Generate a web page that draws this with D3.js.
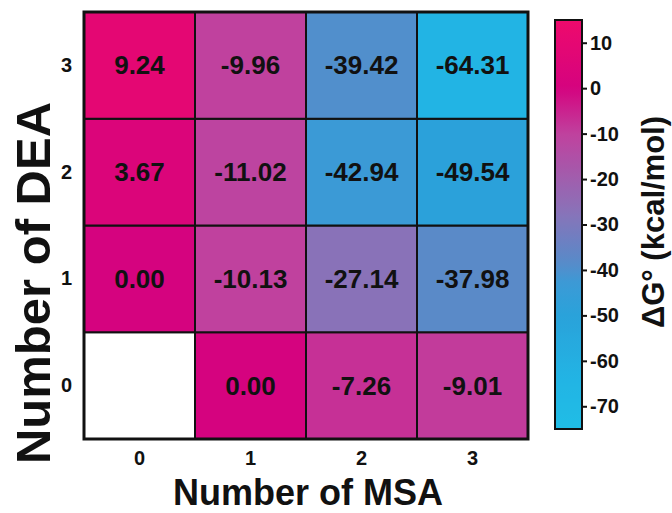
<!DOCTYPE html>
<html><head><meta charset="utf-8">
<script src="https://cdn.jsdelivr.net/npm/d3@7"></script>
<style>body{margin:0;background:#fff}svg{display:block}text{font-family:"Liberation Sans",Arial,sans-serif;font-weight:bold;fill:#111}</style>
</head><body><svg id="c" width="672" height="513"></svg>
<script>
const msa = [0, 1, 2, 3];
const dea = [0, 1, 2, 3];
// values[deaIndex][msaIndex]; null = empty cell
const values = [
  [null, 0.00, -7.26, -9.01],
  [0.00, -10.13, -27.14, -37.98],
  [3.67, -11.02, -42.94, -49.54],
  [9.24, -9.96, -39.42, -64.31]
];
const cbTicks = [10, 0, -10, -20, -30, -40, -50, -60, -70];
const colorStops = [15, 0, -10, -27, -38, -43, -50, -64, -75];
const colorRange = ["#ee0a6c", "#d5037f", "#c0419e", "#8a72b8", "#5a8ac8", "#3b9ad6", "#2aa2da", "#22b4e4", "#20bde6"];

const FF = '"Liberation Sans",Arial,sans-serif';
const svg = d3.select("#c");
const L = 84, R = 528, T = 12, B = 439;
const x = d3.scaleBand().domain(msa).range([L, R]);
const y = d3.scaleBand().domain(dea).range([B, T]);
const color = d3.scaleLinear().domain(colorStops).range(colorRange);

const cells = [];
dea.forEach((d, i) => msa.forEach((m, j) => cells.push({d, m, v: values[i][j]})));

const g = svg.append("g");
g.selectAll("rect").data(cells).join("rect")
  .attr("x", c => x(c.m)).attr("y", c => y(c.d))
  .attr("width", x.bandwidth()).attr("height", y.bandwidth())
  .attr("fill", c => c.v === null ? "#fff" : color(c.v))
  .attr("stroke", "#111").attr("stroke-width", 2);
g.append("rect").attr("x", L).attr("y", T).attr("width", R - L).attr("height", B - T)
  .attr("fill", "none").attr("stroke", "#111").attr("stroke-width", 3);
g.selectAll("text.v").data(cells.filter(c => c.v !== null)).join("text")
  .attr("class", "v")
  .attr("x", c => x(c.m) + x.bandwidth() / 2)
  .attr("y", c => y(c.d) + y.bandwidth() / 2 + 9)
  .attr("text-anchor", "middle")
  .style("font-size", "26px")
  .text(c => c.v.toFixed(2));

function styleAxis(sel) {
  sel.select(".domain").remove();
  sel.selectAll("text").style("font-size", "20px").style("font-family", FF).style("font-weight", "bold").style("fill", "#111");
}
// axes
const xa = svg.append("g").attr("transform", `translate(0,${B})`)
  .call(d3.axisBottom(x).tickSize(0).tickPadding(12).tickFormat(d => String(d)));
styleAxis(xa);
const ya = svg.append("g").attr("transform", `translate(${L},0)`)
  .call(d3.axisLeft(y).tickSize(0).tickPadding(12).tickFormat(d => String(d)));
styleAxis(ya);

svg.append("text").attr("x", (L + R) / 2 + 2).attr("y", 505).attr("text-anchor", "middle")
  .style("font-size", "36px").text("Number of MSA");
svg.append("text").attr("transform", `translate(50,283) rotate(-90)`)
  .attr("text-anchor", "middle").style("font-size", "49px").text("Number of DEA");

// colorbar
const cbX = 555, cbW = 27, cbT = 20, cbB = 429;
const cy = d3.scaleLinear().domain([15, -75]).range([cbT, cbB]);
const defs = svg.append("defs");
const grad = defs.append("linearGradient").attr("id", "gr").attr("x1", 0).attr("y1", 0).attr("x2", 0).attr("y2", 1);
d3.range(0, 1.0001, 0.02).forEach(t => {
  const v = 15 + t * (-90);
  grad.append("stop").attr("offset", t).attr("stop-color", color(v));
});
svg.append("rect").attr("x", cbX).attr("y", cbT).attr("width", cbW).attr("height", cbB - cbT)
  .attr("fill", "url(#gr)").attr("stroke", "#111").attr("stroke-width", 2);
const ca = svg.append("g").attr("transform", `translate(${cbX + cbW},0)`)
  .call(d3.axisRight(cy).tickValues(cbTicks).tickSize(5).tickPadding(3).tickFormat(d => String(d)));
styleAxis(ca);
ca.selectAll("line").attr("stroke", "#111").attr("stroke-width", 2);
svg.append("text").attr("transform", `translate(664,222) rotate(-90)`)
  .attr("text-anchor", "middle").style("font-size", "31px").text("ΔG° (kcal/mol)");
</script></body></html>
